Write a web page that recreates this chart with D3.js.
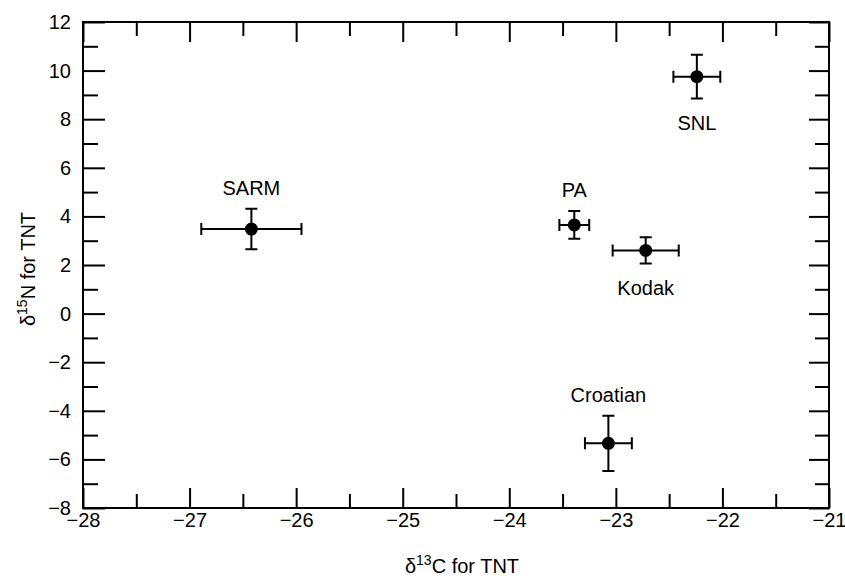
<!DOCTYPE html>
<html lang="en">
<head>
<meta charset="UTF-8">
<title>TNT isotopes</title>
<script src="https://cdn.jsdelivr.net/npm/d3@7"></script>
<style>
  body { margin: 0; background: #fff; }
  text { font-family: "Liberation Sans", Arial, sans-serif; fill: #000; }
</style>
</head>
<body>
<script>
    // data
    var labels = ['SARM', 'PA', 'Kodak', 'SNL', 'Croatian']
    var d13C = [-26.42, -23.39, -22.72, -22.24, -23.07]
    var d15N = [3.48, 3.65, 2.6, 9.75, -5.34]
    var errC = [0.47, 0.14, 0.31, 0.22, 0.22]
    var errN = [0.83, 0.57, 0.54, 0.9, 1.14]
    var labelSide = ['above', 'above', 'below', 'below', 'above']
    var xTicks = [-28, -27, -26, -25, -24, -23, -22, -21]
    var yTicks = [-8, -6, -4, -2, 0, 2, 4, 6, 8, 10, 12]

    var width = 845, height = 580
    var padding = {top: 22, right: 16, bottom: 72, left: 83}
    var w = width - padding.left - padding.right
    var h = height - padding.top - padding.bottom
    var fs = 20

    var svg = d3.select('body').append('svg')
        .attr('width', width)
        .attr('height', height)
    var g = svg.append('g')
        .attr('transform', `translate(${padding.left}, ${padding.top})`)

    var x = d3.scaleLinear().domain([-28, -21]).range([0, w])
    var y = d3.scaleLinear().domain([-8, 12]).range([h, 0])

    var xMinor = d3.range(-27.5, -21, 1)
    var yMinor = d3.range(-7, 12, 2)
    var fmt = d3.format('')

    function styleAxis(sel) {
        sel.select('.domain').remove()
        sel.selectAll('line').attr('stroke', '#000').attr('stroke-width', 2)
        sel.selectAll('text').attr('font-size', fs).attr('font-family', '"Liberation Sans", Arial, sans-serif')
    }

    // bottom
    g.append('g').attr('transform', `translate(0, ${h})`)
        .call(d3.axisBottom(x).tickValues(xTicks).tickFormat(fmt).tickSize(-20).tickPadding(5))
        .call(styleAxis)
    g.append('g').attr('transform', `translate(0, ${h})`)
        .call(d3.axisBottom(x).tickValues(xMinor).tickFormat('').tickSize(-14))
        .call(styleAxis)
    // top
    g.append('g')
        .call(d3.axisTop(x).tickValues(xTicks).tickFormat('').tickSize(-20))
        .call(styleAxis)
    g.append('g')
        .call(d3.axisTop(x).tickValues(xMinor).tickFormat('').tickSize(-14))
        .call(styleAxis)
    // left
    g.append('g')
        .call(d3.axisLeft(y).tickValues(yTicks).tickFormat(fmt).tickSize(-22).tickPadding(12))
        .call(styleAxis)
    g.append('g')
        .call(d3.axisLeft(y).tickValues(yMinor).tickFormat('').tickSize(-15))
        .call(styleAxis)
    // right
    g.append('g').attr('transform', `translate(${w}, 0)`)
        .call(d3.axisRight(y).tickValues(yTicks).tickFormat('').tickSize(-20))
        .call(styleAxis)
    g.append('g').attr('transform', `translate(${w}, 0)`)
        .call(d3.axisRight(y).tickValues(yMinor).tickFormat('').tickSize(-14))
        .call(styleAxis)

    g.append('rect')
        .attr('width', w).attr('height', h)
        .attr('fill', 'none').attr('stroke', '#000').attr('stroke-width', 2)

    var pts = labels.map((name, i) => ({
        name: name, c: d13C[i], n: d15N[i], ec: errC[i], en: errN[i], side: labelSide[i]
    }))

    var cap = 6
    var pg = g.selectAll('.pt').data(pts).enter().append('g').attr('class', 'pt')
    // horizontal error
    pg.append('path')
        .attr('d', d => {
            var x0 = x(d.c - d.ec), x1 = x(d.c + d.ec), yy = y(d.n)
            return `M${x0},${yy}H${x1}M${x0},${yy - cap}V${yy + cap}M${x1},${yy - cap}V${yy + cap}`
        })
        .attr('stroke', '#000').attr('stroke-width', 2).attr('fill', 'none')
    // vertical error
    pg.append('path')
        .attr('d', d => {
            var y0 = y(d.n - d.en), y1 = y(d.n + d.en), xx = x(d.c)
            return `M${xx},${y0}V${y1}M${xx - cap},${y0}H${xx + cap}M${xx - cap},${y1}H${xx + cap}`
        })
        .attr('stroke', '#000').attr('stroke-width', 2).attr('fill', 'none')
    pg.append('circle')
        .attr('cx', d => x(d.c)).attr('cy', d => y(d.n)).attr('r', 6.5)
        .attr('fill', '#000')
    pg.append('text')
        .attr('x', d => x(d.c))
        .attr('y', d => d.side === 'above' ? y(d.n + d.en) - 14 : y(d.n - d.en) + 31)
        .attr('text-anchor', 'middle')
        .attr('font-size', fs)
        .text(d => d.name)

    // axis titles
    var xt = svg.append('text')
        .attr('x', padding.left + w / 2 + 6)
        .attr('y', 573)
        .attr('text-anchor', 'middle')
        .attr('font-size', fs)
    xt.append('tspan').text('δ')
    xt.append('tspan').attr('font-size', 14).attr('dy', -8).text('13')
    xt.append('tspan').attr('dy', 8).text('C for TNT')

    var yt = svg.append('text')
        .attr('transform', `translate(35, ${padding.top + h / 2 + 4}) rotate(-90)`)
        .attr('text-anchor', 'middle')
        .attr('font-size', fs)
    yt.append('tspan').text('δ')
    yt.append('tspan').attr('font-size', 14).attr('dy', -8).text('15')
    yt.append('tspan').attr('dy', 8).text('N for TNT')
</script>
</body>
</html>
